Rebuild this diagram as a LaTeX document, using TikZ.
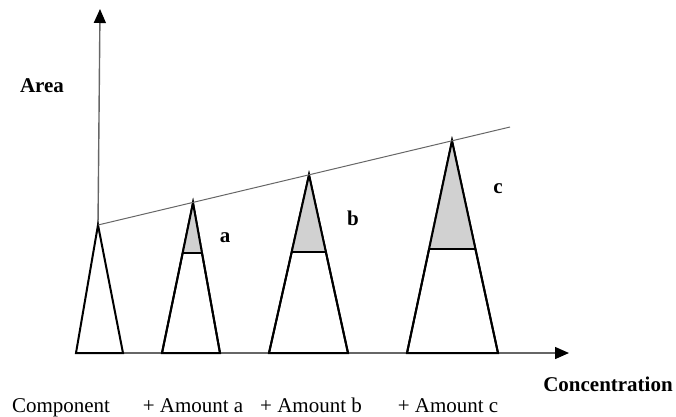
\documentclass[tikz,border=0pt]{standalone}
\usepackage{fontspec}
\setmainfont{Liberation Serif}
\usetikzlibrary{arrows.meta}
\begin{document}
\begin{tikzpicture}[x=1pt,y=-1pt,
  peak/.style={draw=black,line width=2pt,line join=miter,fill=white},
  band/.style={fill=black!18},
  cut/.style={draw=black,line width=2pt},
  axis/.style={draw=black!60,line width=1.4pt,-{Triangle[length=14pt,width=12pt,color=black,fill=black]}},
  trend/.style={draw=black!60,line width=1pt},
  lbl/.style={font=\fontsize{21}{24}\selectfont\bfseries,inner sep=0pt},
  tick/.style={font=\fontsize{21}{24}\selectfont,inner sep=0pt,anchor=base}]
\useasboundingbox (0,0) rectangle (676,416);
% coordinates
\coordinate (o) at (76,353);
\coordinate (xend) at (569,353);
\coordinate (p0) at (98,225);
\coordinate (ytop) at (100,9);
\coordinate (tend) at (510,127);
% axes
\draw[axis] (o) -- (xend);
\draw[axis] (p0) -- (ytop);
% triangle 0
\draw[peak] (76,353) -- (p0) -- (123,353) -- cycle;
% triangle a
\coordinate (pa) at (193,203);
\draw[peak] (162,353) -- (pa) -- (220,353) -- cycle;
\fill[band] (183,253) -- (pa) -- (203,253) -- cycle;
\draw[peak,fill=none] (162,353) -- (pa) -- (220,353);
\draw[cut] (183,253) -- (203,253);
% triangle b
\coordinate (pb) at (309,175);
\draw[peak] (269,353) -- (pb) -- (348,353) -- cycle;
\fill[band] (292,252) -- (pb) -- (326,252) -- cycle;
\draw[peak,fill=none] (269,353) -- (pb) -- (348,353);
\draw[cut] (292,252) -- (326,252);
% triangle c
\coordinate (pc) at (452,141);
\draw[peak] (407,353) -- (pc) -- (498,353) -- cycle;
\fill[band] (428,249) -- (pc) -- (475,249) -- cycle;
\draw[peak,fill=none] (407,353) -- (pc) -- (498,353);
\draw[cut] (428,249) -- (475,249);
% trend line
\draw[trend] (p0) -- (tend);
% labels
\node[lbl] (area) at (42,86) {Area};
\node[lbl] (la) at (225,238) {a};
\node[lbl] (lb) at (353,218) {b};
\node[lbl] (lc) at (498,189) {c};
\node[lbl,anchor=base] (conc) at (608,391) {Concentration};
\node[tick] (t0) at (61,412) {Component};
\node[tick] (t1) at (193,412) {+ Amount a};
\node[tick] (t2) at (311,412) {+ Amount b};
\node[tick] (t3) at (448,412) {+ Amount c};
\end{tikzpicture}
\end{document}
